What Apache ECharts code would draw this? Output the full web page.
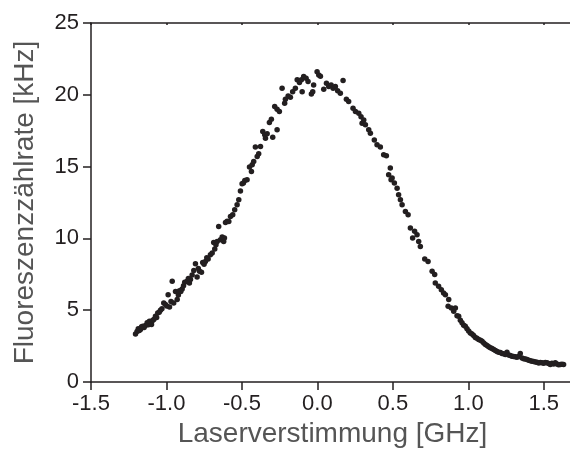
<!DOCTYPE html>
<html>
<head>
<meta charset="utf-8">
<style>
  html, body { margin: 0; padding: 0; background: #fff; }
  #chart { width: 570px; height: 452px; }
</style>
<script src="https://cdn.jsdelivr.net/npm/echarts@6/dist/echarts.min.js"></script>
</head>
<body>
<div id="chart"></div>
<script>
// Laser detuning scan: fluorescence count rate vs. detuning
const detuningGHz = [
  -1.205, -1.195, -1.187, -1.180, -1.172, -1.165, -1.157, -1.148, -1.139, -1.128,
  -1.120, -1.113, -1.099, -1.092, -1.084, -1.073, -1.065, -1.058, -1.048, -1.040,
  -1.030, -1.018, -1.007, -0.998, -0.989, -0.980, -0.970, -0.962, -0.952, -0.940,
  -0.929, -0.921, -0.914, -0.905, -0.896, -0.887, -0.879, -0.863, -0.855, -0.848,
  -0.841, -0.830, -0.819, -0.808, -0.797, -0.789, -0.781, -0.768, -0.760, -0.751,
  -0.742, -0.733, -0.724, -0.709, -0.697, -0.687, -0.680, -0.672, -0.664, -0.654,
  -0.642, -0.631, -0.621, -0.616, -0.609, -0.598, -0.587, -0.576, -0.561, -0.548,
  -0.532, -0.521, -0.510, -0.499, -0.490, -0.481, -0.466, -0.450, -0.437, -0.432,
  -0.422, -0.411, -0.399, -0.389, -0.377, -0.362, -0.349, -0.344, -0.333, -0.318,
  -0.305, -0.296, -0.283, -0.267, -0.267, -0.252, -0.234, -0.217, -0.212, -0.194,
  -0.179, -0.164, -0.146, -0.134, -0.119, -0.106, -0.101, -0.091, -0.075, -0.062,
  -0.040, -0.031, -0.025, -0.002, 0.009, 0.020, 0.042, 0.060, 0.075, 0.091,
  0.104, 0.119, 0.134, 0.152, 0.170, 0.192, 0.207, 0.236, 0.252, 0.274,
  0.289, 0.296, 0.307, 0.318, 0.340, 0.351, 0.377, 0.395, 0.417, 0.439,
  0.457, 0.472, 0.483, 0.488, 0.495, 0.510, 0.528, 0.538, 0.550, 0.561,
  0.583, 0.601, 0.616, 0.631, 0.644, 0.660, 0.671, 0.682, 0.711, 0.733,
  0.760, 0.777, 0.781, 0.803, 0.821, 0.836, 0.848, 0.866, 0.870, 0.887,
  0.903, 0.914, 0.925, 0.936, 0.947, 0.958, 0.969, 0.980, 0.991, 1.002,
  1.013, 1.024, 1.035, 1.046, 1.057, 1.068, 1.080, 1.091, 1.102, 1.113,
  1.124, 1.135, 1.146, 1.157, 1.168, 1.179, 1.190, 1.201, 1.212, 1.223,
  1.234, 1.245, 1.256, 1.267, 1.278, 1.289, 1.300, 1.311, 1.322, 1.333,
  1.344, 1.356, 1.367, 1.378, 1.389, 1.400, 1.411, 1.422, 1.433, 1.444,
  1.455, 1.466, 1.477, 1.488, 1.499, 1.510, 1.521, 1.532, 1.543, 1.554,
  1.565, 1.576, 1.587, 1.598, 1.609, 1.620, 1.631
];
const rateKHz = [
  3.35, 3.52, 3.70, 3.58, 3.65, 3.85, 3.88, 3.80, 3.93, 4.12,
  3.98, 4.23, 4.00, 4.28, 4.35, 4.58, 4.50, 4.81, 4.86, 4.99,
  5.10, 5.51, 5.39, 5.30, 6.08, 5.23, 5.60, 7.01, 5.51, 6.31,
  5.74, 6.05, 6.36, 6.30, 6.48, 6.70, 6.94, 7.01, 7.20, 6.90,
  7.13, 7.45, 7.77, 8.24, 7.32, 7.90, 7.71, 7.65, 8.33, 8.20,
  8.40, 8.65, 8.57, 8.87, 8.98, 9.72, 9.26, 9.55, 9.79, 10.83,
  9.91, 10.10, 9.79, 10.03, 11.11, 11.20, 11.18, 11.53, 11.65, 12.00,
  12.34, 12.69, 13.30, 13.80, 13.85, 14.03, 14.08, 14.97, 14.66, 15.13,
  15.35, 16.36, 15.70, 15.89, 16.40, 17.44, 17.21, 16.98, 17.28, 18.07,
  18.30, 17.05, 19.18, 17.56, 19.00, 18.83, 20.46, 19.42, 19.69, 19.92,
  19.83, 20.22, 20.46, 21.04, 20.85, 21.04, 20.22, 21.27, 21.15, 20.92,
  20.06, 20.22, 20.69, 21.61, 21.38, 21.30, 20.39, 20.81, 20.57, 20.69,
  20.46, 20.57, 20.29, 20.11, 20.99, 19.69, 19.53, 19.07, 18.83, 18.72,
  18.48, 18.02, 18.25, 17.91, 17.56, 17.33, 16.86, 16.52, 16.36, 15.82,
  15.75, 14.43, 14.90, 14.08, 14.20, 13.85, 13.50, 13.04, 12.69, 12.34,
  11.88, 11.65, 10.72, 10.03, 10.49, 10.26, 9.79, 9.44, 8.57, 8.40,
  7.71, 7.48, 6.90, 6.66, 6.43, 6.20, 6.08, 5.27, 5.74, 5.16,
  4.92, 5.16, 4.62, 4.58, 4.30, 4.12, 3.95, 3.88, 3.70, 3.55,
  3.42, 3.35, 3.23, 3.10, 3.05, 2.96, 2.90, 2.84, 2.72, 2.61,
  2.55, 2.45, 2.38, 2.33, 2.26, 2.20, 2.12, 2.07, 2.05, 1.98,
  1.96, 1.92, 2.07, 1.88, 1.84, 1.80, 1.78, 1.75, 1.72, 1.78,
  1.98, 1.68, 1.62, 1.60, 1.56, 1.52, 1.48, 1.45, 1.42, 1.40,
  1.38, 1.33, 1.36, 1.34, 1.30, 1.36, 1.34, 1.28, 1.22, 1.30,
  1.26, 1.34, 1.25, 1.20, 1.22, 1.24, 1.22
];

// Axis ranges and tick steps
const xRange = [-1.5, 1.7];
const xStep = 0.5;
const xTickValues = [-1.5, -1.0, -0.5, 0, 0.5, 1.0, 1.5];
const yRange = [0, 25];
const yStep = 5;

const ink = '#231f20';
const titleGray = '#555555';
const fontFamily = '"Liberation Sans", Arial, Helvetica, sans-serif';

const points = detuningGHz.map((x, i) => [x, rateKHz[i]]);

const chart = echarts.init(document.getElementById('chart'), null, { renderer: 'canvas' });

const isMajor = v => Math.abs(v / xStep - Math.round(v / xStep)) < 1e-6 && v <= 1.5 + 1e-9;

chart.setOption({
  animation: false,
  backgroundColor: '#ffffff',
  grid: {
    left: 91,
    top: 23,
    right: -4,
    bottom: 70,
    containLabel: false,
    outerBoundsMode: 'none'
  },
  xAxis: [
    {
      type: 'value',
      position: 'bottom',
      min: xRange[0],
      max: xRange[1],
      interval: xStep,
      name: 'Laserverstimmung [GHz]',
      nameLocation: 'middle',
      nameGap: 38,
      nameTextStyle: { color: titleGray, fontSize: 28, fontFamily: fontFamily },
      axisLine: { show: true, onZero: false, lineStyle: { color: ink, width: 1.5 } },
      axisTick: {
        show: true, inside: false, length: 8,
        lineStyle: { color: ink, width: 1.5 },
        customValues: xTickValues
      },
      axisLabel: {
        color: ink, fontSize: 22, fontFamily: fontFamily, margin: 11,
        customValues: xTickValues,
        formatter: v => (isMajor(v) ? v.toFixed(1) : '')
      },
      splitLine: { show: false }
    },
    {
      type: 'value',
      position: 'top',
      min: xRange[0],
      max: xRange[1],
      interval: xStep,
      axisLine: { show: true, onZero: false, lineStyle: { color: ink, width: 1.5 } },
      axisTick: {
        show: true, inside: true, length: 2,
        lineStyle: { color: ink, width: 1.5 },
        customValues: xTickValues
      },
      axisLabel: { show: false },
      splitLine: { show: false }
    }
  ],
  yAxis: {
    type: 'value',
    min: yRange[0],
    max: yRange[1],
    interval: yStep,
    name: 'Fluoreszenzzählrate [kHz]',
    nameLocation: 'middle',
    nameGap: 52,
    nameTextStyle: { color: titleGray, fontSize: 28, fontFamily: fontFamily },
    axisLine: { show: true, onZero: false, lineStyle: { color: ink, width: 1.5 } },
    axisTick: { show: true, inside: false, length: 8, lineStyle: { color: ink, width: 1.5 } },
    axisLabel: { color: ink, fontSize: 22, fontFamily: fontFamily, margin: 12 },
    splitLine: { show: false }
  },
  series: [
    {
      type: 'scatter',
      xAxisIndex: 0,
      data: points,
      symbol: 'circle',
      symbolSize: 5.5,
      itemStyle: { color: ink, opacity: 1 },
      emphasis: { disabled: true }
    }
  ]
});
</script>
</body>
</html>
